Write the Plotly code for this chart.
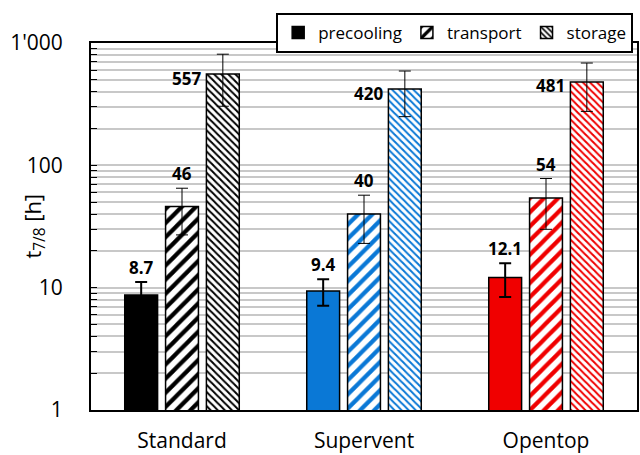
import math
import plotly.graph_objects as go

# ---- data -------------------------------------------------------------
categories = ["Standard", "Supervent", "Opentop"]
series_names = ["precooling", "transport", "storage"]

precooling = [8.7, 9.4, 12.1]
transport = [46, 40, 54]
storage = [557, 420, 481]

precooling_err = [2.4, 2.3, 3.7]
transport_err = [19, 17, 24]
storage_err = [253, 170, 205]

y_tick_values = [1, 10, 100, 1000]
y_tick_labels = ["1", "10", "100", "1'000"]
y_title = "t<sub>7/8</sub> [h]"

# ---- styling ----------------------------------------------------------
group_colors = ["#000000", "#0a78d6", "#f00000"]
FONT = "Open Sans"
BARGAP = 0.327
BARGROUPGAP = 0.195

series = [
    dict(name="precooling", values=precooling, err=precooling_err,
         pattern=None, err_thick=2, fmt="{:.1f}"),
    dict(name="transport", values=transport, err=transport_err,
         pattern=dict(shape="/", size=10, solidity=0.42), err_thick=1, fmt="{:.0f}"),
    dict(name="storage", values=storage, err=storage_err,
         pattern=dict(shape="\\", size=5, solidity=0.4), err_thick=1, fmt="{:.0f}"),
]

fig = go.Figure()
for s in series:
    marker = dict(color=group_colors, line=dict(color="#000000", width=1.5))
    if s["pattern"] is not None:
        marker["color"] = "#ffffff"
        marker["pattern"] = dict(
            shape=s["pattern"]["shape"],
            size=s["pattern"]["size"],
            solidity=s["pattern"]["solidity"],
            fgcolor=group_colors,
            bgcolor="#ffffff",
            fillmode="replace",
        )
    fig.add_trace(go.Bar(
        name=s["name"],
        x=categories,
        y=s["values"],
        marker=marker,
        error_y=dict(type="data", array=s["err"], symmetric=True,
                     color="#000000", thickness=s["err_thick"], width=6),
    ))

# value labels: offsets derived from the group layout of the bars
slot = (1 - BARGAP) / len(series)
half_bar = slot * (1 - BARGROUPGAP) / 2
annotations = []
for k, s in enumerate(series):
    offset = (k - (len(series) - 1) / 2) * slot
    for i, (v, e) in enumerate(zip(s["values"], s["err"])):
        txt = s["fmt"].format(v)
        if s["name"] == "storage":
            annotations.append(dict(
                x=i + offset - half_bar, y=math.log10(v), xref="x", yref="y",
                text=f"<b>{txt}</b>", showarrow=False, xanchor="right",
                yanchor="middle", xshift=-3, yshift=-4,
                font=dict(family=FONT, size=17, color="#000000")))
        else:
            annotations.append(dict(
                x=i + offset, y=math.log10(v + e), xref="x", yref="y",
                text=f"<b>{txt}</b>", showarrow=False, xanchor="center",
                yanchor="bottom", yshift=1,
                font=dict(family=FONT, size=17, color="#000000")))

# y-axis title, placed as rotated text left of the tick labels
annotations.append(dict(
    x=-0.106, y=0.5, xref="paper", yref="paper", text=y_title,
    textangle=-90, showarrow=False, xanchor="center", yanchor="middle",
    font=dict(family=FONT, size=22, color="#000000")))

fig.update_layout(
    width=640, height=455,
    margin=dict(l=91, r=1, t=43, b=44),
    paper_bgcolor="#ffffff", plot_bgcolor="#ffffff",
    barmode="group", bargap=BARGAP, bargroupgap=BARGROUPGAP,
    font=dict(family=FONT, size=20, color="#000000"),
    showlegend=True,
    legend=dict(
        orientation="h", x=0.993, xanchor="right", y=1.082, yanchor="top",
        bgcolor="#ffffff", bordercolor="#000000", borderwidth=2,
        font=dict(family=FONT, size=17, color="#000000"),
        itemwidth=30,
    ),
    annotations=annotations,
)

fig.update_xaxes(
    type="category", range=[-0.5, 2.5],
    showline=True, linecolor="#000000", linewidth=2, mirror=True,
    ticks="", showgrid=False,
    tickfont=dict(family=FONT, size=21), ticklabelstandoff=11,
)

fig.update_yaxes(
    type="log", range=[0, 3],
    tickvals=y_tick_values, ticktext=y_tick_labels,
    showline=True, linecolor="#000000", linewidth=2, mirror=True,
    ticks="inside", ticklen=6, tickcolor="#000000", tickwidth=1,
    showgrid=True, gridcolor="#c8c8c8", gridwidth=1.5,
    minor=dict(showgrid=True, gridcolor="#c8c8c8", gridwidth=1.5,
               ticks="inside", ticklen=6, tickcolor="#000000", dtick="D1"),
    tickfont=dict(family=FONT, size=21), ticklabelstandoff=22,
    zeroline=False,
)

fig.write_html("out.html")
